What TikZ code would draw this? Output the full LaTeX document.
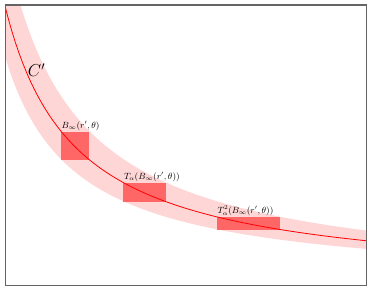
\documentclass[tikz,border=0pt]{standalone}
\usepackage{amsmath,amsfonts,amssymb}
\usepackage{tikz}
\usetikzlibrary{positioning}

\definecolor{bandpink}{RGB}{255,214,214}
\definecolor{boxred}{RGB}{255,102,102}
\definecolor{framegray}{RGB}{100,100,100}

\begin{document}
\begin{tikzpicture}[
  x=10pt, y=10pt,
  blk/.style={rectangle, fill=boxred, draw=none, inner sep=0pt},
  lbl/.style={font=\small, inner sep=1pt, anchor=south west},
  curveline/.style={red, line width=0.8pt}
]
\useasboundingbox (0,0) rectangle (37.4,29.2);
\coordinate (fsw) at (0.57,0.63);
\coordinate (fne) at (36.68,28.7);

\begin{scope}
\clip (fsw) rectangle (fne);
\begin{scope}[shift={(-6.4,0.64)}]
  % band round the curve
  \fill[bandpink] plot[domain=7.7:44, samples=80] (\x,{23.7/\x*10})
    -- plot[domain=44:5.4, samples=80] (\x,{15.8/\x*10}) -- cycle;
  % the three boxes
  \node[blk, minimum width=28.3pt, minimum height=28.3pt] (b0) at (13.885,13.975) {};
  \node[blk, minimum width=42.5pt, minimum height=18.9pt] (b1) at (20.825,9.315) {};
  \node[blk, minimum width=63.8pt, minimum height=12.6pt] (b2) at (31.24,6.21) {};
  \draw[curveline] plot[domain=6.8:44, samples=100] (\x,{19.3/\x*10});
\end{scope}
\end{scope}

\node[lbl] (l0) at (b0.north west) {$B_\infty(r',\theta)$};
\node[lbl] (l1) at (b1.north west) {$T_\alpha(B_\infty(r',\theta))$};
\node[lbl] (l2) at (b2.north west) {$T_\alpha^2(B_\infty(r',\theta))$};
\node[font=\LARGE] (cp) at (3.65,22.2) {$C'$};

\draw[framegray, line width=1.3pt] (fsw) rectangle (fne);
\end{tikzpicture}
\end{document}
